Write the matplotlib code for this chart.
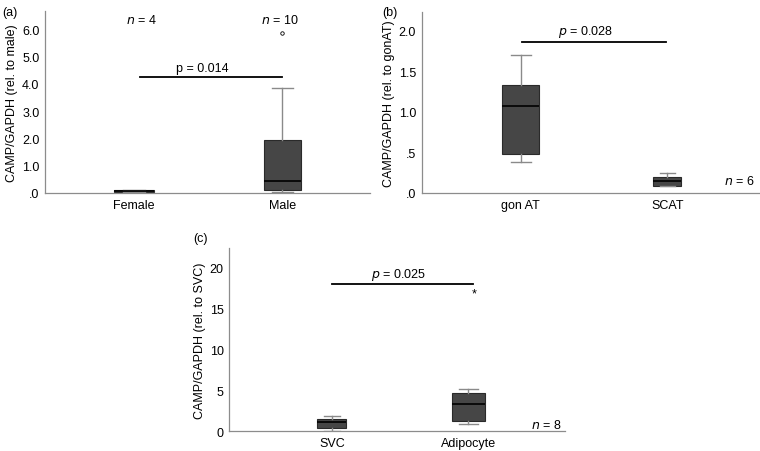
import matplotlib
matplotlib.use("Agg")
import matplotlib.pyplot as plt

plt.rcParams["font.family"] = ["Liberation Sans", "DejaVu Sans"]

# ── Data ──────────────────────────────────────────────────────────────────
# (a) sex
a_groups = ["Female", "Male"]
a_whislo = [0.02, 0.05]
a_q1 = [0.03, 0.11]
a_med = [0.07, 0.43]
a_q3 = [0.10, 1.94]
a_whishi = [0.11, 3.86]
a_fliers = [[], [5.84]]
a_n = ["4", "10"]
a_p = "p = 0.014"
a_pbar = 4.24

# (b) depot
b_groups = ["gon AT", "SCAT"]
b_whislo = [0.38, 0.08]
b_q1 = [0.48, 0.09]
b_med = [1.07, 0.15]
b_q3 = [1.33, 0.20]
b_whishi = [1.70, 0.25]
b_n = "6"
b_p = "0.028"
b_pbar = 1.86

# (c) cell fraction
c_groups = ["SVC", "Adipocyte"]
c_whislo = [0.05, 0.82]
c_q1 = [0.37, 1.22]
c_med = [1.06, 3.26]
c_q3 = [1.47, 4.65]
c_whishi = [1.87, 5.18]
c_extreme = [None, 16.9]
c_n = "8"
c_p = "0.025"
c_pbar = 17.95

BOX = "#464646"
WHISK = "#8a8a8a"
SPINE = "#8c8c8c"
FS = 9


def make_stats(lo, q1, med, q3, hi, fliers=None):
    out = []
    for i in range(len(med)):
        out.append({"whislo": lo[i], "q1": q1[i], "med": med[i], "q3": q3[i],
                    "whishi": hi[i],
                    "fliers": fliers[i] if fliers else []})
    return out


def draw_box(ax, stats, widths):
    ax.bxp(stats, positions=range(len(stats)), widths=widths,
           capwidths=[w * 0.55 for w in widths],
           showfliers=True, patch_artist=True,
           boxprops=dict(facecolor=BOX, edgecolor="#2a2a2a", linewidth=0.8),
           medianprops=dict(color="black", linewidth=1.2),
           whiskerprops=dict(color=WHISK, linewidth=1.0),
           capprops=dict(color=WHISK, linewidth=1.0),
           flierprops=dict(marker="o", markersize=2.5, markerfacecolor="white",
                           markeredgecolor="black", markeredgewidth=0.6))


def style(ax):
    for s in ["top", "right"]:
        ax.spines[s].set_visible(False)
    for s in ["left", "bottom"]:
        ax.spines[s].set_color(SPINE)
        ax.spines[s].set_linewidth(0.9)
    ax.tick_params(length=0, labelsize=FS, pad=4)


fig = plt.figure(figsize=(7.6, 4.52), dpi=100)

# ── Panel (a) ──────────────────────────────────────────────────────────────
ax_a = fig.add_axes([0.0592, 0.5708, 0.4276, 0.4027])
draw_box(ax_a, make_stats(a_whislo, a_q1, a_med, a_q3, a_whishi, a_fliers), [0.27, 0.25])
ax_a.set_xlim(-0.6, 1.59)
ax_a.set_ylim(0, 6.66)
ax_a.set_yticks([0, 1, 2, 3, 4, 5, 6])
ax_a.set_yticklabels([".0", "1.0", "2.0", "3.0", "4.0", "5.0", "6.0"])
ax_a.set_xticks([0, 1])
ax_a.set_xticklabels(a_groups)
ax_a.set_ylabel("CAMP/GAPDH (rel. to male)", fontsize=FS, labelpad=3)
style(ax_a)
ax_a.plot([0.04, 1.0], [a_pbar, a_pbar], color="black", linewidth=1.3)
ax_a.text(0.46, a_pbar + 0.12, a_p, ha="center", va="bottom", fontsize=FS)
for i, n in enumerate(a_n):
    ax_a.text(i + (0.05 if i == 0 else -0.02), 6.35, r"$n$ = " + n,
              ha="center", va="center", fontsize=FS)
fig.text(0.003, 0.985, "(a)", fontsize=FS, va="top")

# ── Panel (b) ──────────────────────────────────────────────────────────────
ax_b = fig.add_axes([0.5549, 0.5708, 0.4447, 0.401])
draw_box(ax_b, make_stats(b_whislo, b_q1, b_med, b_q3, b_whishi), [0.25, 0.19])
ax_b.set_xlim(-0.675, 1.63)
ax_b.set_ylim(0, 2.23)
ax_b.set_yticks([0, 0.5, 1.0, 1.5, 2.0])
ax_b.set_yticklabels([".0", ".5", "1.0", "1.5", "2.0"])
ax_b.set_xticks([0, 1])
ax_b.set_xticklabels(b_groups)
ax_b.set_ylabel("CAMP/GAPDH (rel. to gonAT)", fontsize=FS, labelpad=3)
style(ax_b)
ax_b.plot([0.01, 0.99], [b_pbar, b_pbar], color="black", linewidth=1.3)
ax_b.text(0.44, b_pbar + 0.03, r"$p$ = " + b_p, ha="center", va="bottom", fontsize=FS)
ax_b.text(1.49, 0.15, r"$n$ = " + b_n, ha="center", va="center", fontsize=FS)
fig.text(0.503, 0.985, "(b)", fontsize=FS, va="top")

# ── Panel (c) ──────────────────────────────────────────────────────────────
ax_c = fig.add_axes([0.3017, 0.0442, 0.4417, 0.4049])
draw_box(ax_c, make_stats(c_whislo, c_q1, c_med, c_q3, c_whishi), [0.21, 0.24])
ax_c.set_xlim(-0.75, 1.706)
ax_c.set_ylim(0, 22.4)
ax_c.set_yticks([0, 5, 10, 15, 20])
ax_c.set_xticks([0, 1])
ax_c.set_xticklabels(c_groups)
ax_c.set_ylabel("CAMP/GAPDH (rel. to SVC)", fontsize=FS, labelpad=3)
style(ax_c)
for i, v in enumerate(c_extreme):
    if v is not None:
        ax_c.text(i + 0.04, v, "*", ha="center", va="center", fontsize=FS)
ax_c.plot([0.0, 1.03], [c_pbar, c_pbar], color="black", linewidth=1.3)
ax_c.text(0.49, c_pbar + 0.35, r"$p$ = " + c_p, ha="center", va="bottom", fontsize=FS)
ax_c.text(1.57, 0.85, r"$n$ = " + c_n, ha="center", va="center", fontsize=FS)
fig.text(0.254, 0.485, "(c)", fontsize=FS, va="top")

fig.savefig("out.png", dpi=100)
